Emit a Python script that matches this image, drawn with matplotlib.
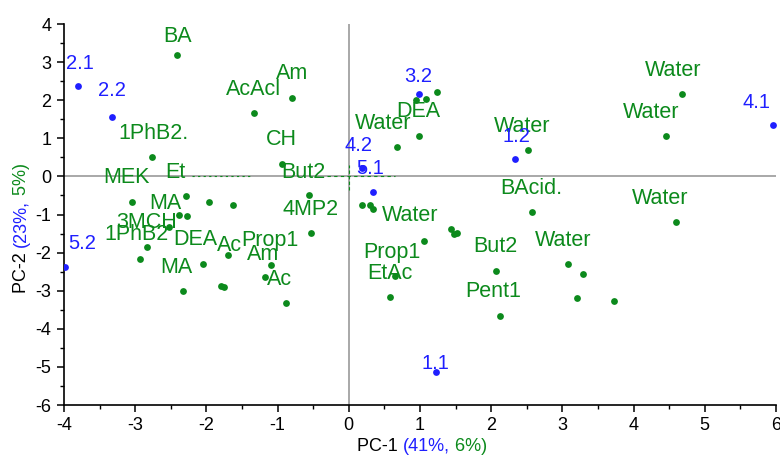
import matplotlib
matplotlib.use('Agg')

import matplotlib.pyplot as plt
from matplotlib.ticker import MultipleLocator

plt.rcParams['axes.unicode_minus'] = False

GREEN = '#0c8a1c'
BLUE = '#1f1fff'

# scores (blue) - sample ids
blue_ids = ['2.1', '2.2', '5.2', '3.2', '4.2', '5.1', '1.2', '1.1', '4.1']
blue_x = [-3.81, -3.33, -3.99, 0.99, 0.19, 0.34, 2.33, 1.22, 5.96]
blue_y = [2.36, 1.55, -2.38, 2.15, 0.23, -0.41, 0.45, -5.14, 1.34]
blue_lx = [-3.77, -3.33, -3.75, 0.97, 0.14, 0.30, 2.35, 1.21, 5.72]
blue_ly = [2.97, 2.26, -1.75, 2.62, 0.81, 0.21, 1.05, -4.90, 1.93]

# loadings (green) - points
green_x = [-2.41, -1.33, -0.80, -2.76, -0.94, -3.04, -2.29, -0.56, -1.97, -1.62,
           -2.38, -2.27, -2.53, -2.84, -2.93, -2.05, -2.33, -1.69, -1.79, -1.75,
           -0.53, -1.09, -1.17, -0.88,
           0.94, 1.09, 1.24, 0.98, 0.68, 2.52, 2.57, 0.19, 0.30, 0.34,
           1.43, 1.48, 1.52, 1.05, 0.65, 0.58, 2.07, 2.12, 3.08, 3.29,
           3.20, 4.68, 4.46, 4.59, 3.72]
green_y = [3.19, 1.66, 2.07, 0.52, 0.33, -0.67, -0.52, -0.48, -0.68, -0.74,
           -1.01, -1.05, -1.33, -1.84, -2.16, -2.31, -3.02, -2.06, -2.87, -2.91,
           -1.49, -2.32, -2.64, -3.32,
           2.01, 2.04, 2.22, 1.07, 0.76, 0.70, -0.94, -0.74, -0.74, -0.86,
           -1.39, -1.52, -1.49, -1.69, -2.62, -3.17, -2.47, -3.66, -2.31, -2.57,
           -3.20, 2.15, 1.07, -1.20, -3.28]

# loadings (green) - labels
green_names = ['BA', 'AcAcl', 'Am', '1PhB2.', 'CH', 'MEK', 'Et', 'But2', 'MA', '3MCH',
               '1PhB2', 'DEA', 'Ac', 'Prop1', '4MP2', 'Am', 'MA', 'Ac', 'DEA', 'Water',
               'Water', 'BAcid.', 'Water', 'Prop1', 'EtAc', 'But2', 'Pent1', 'Water',
               'Water', 'Water', 'Water']
green_lx = [-2.41, -1.34, -0.80, -2.75, -0.94, -3.12, -2.44, -0.64, -2.58, -2.84,
            -2.98, -2.15, -1.68, -1.11, -0.54, -1.21, -2.42, -0.98, 0.98, 0.48,
            2.44, 2.57, 0.86, 0.61, 0.58, 2.06, 2.03, 3.01,
            4.56, 4.25, 4.38]
green_ly = [3.66, 2.28, 2.70, 1.13, 0.96, -0.03, 0.09, 0.11, -0.72, -1.20,
            -1.52, -1.66, -1.81, -1.68, -0.87, -2.06, -2.38, -2.70, 1.71, 1.40,
            1.31, -0.32, -1.02, -2.01, -2.54, -1.84, -3.01, -1.68,
            2.78, 1.69, -0.59]

x_ticks = list(range(-4, 7))
y_ticks = list(range(-6, 5))

fig = plt.figure(figsize=(7.8, 4.57), dpi=100)
ax = fig.add_axes([64 / 780, 1 - 405 / 457, 712 / 780, 381 / 457])

ax.axhline(0, color='#9a9a9a', lw=1.2, zorder=1)
ax.axvline(0, color='#9a9a9a', lw=1.2, zorder=1)

# leader lines near origin
ax.plot([-2.2, -1.35], [0.02, 0.02], color=GREEN, lw=0.8, ls=(0, (2, 3)), zorder=2)
ax.plot([-0.3, 0.65], [0.02, 0.02], color=GREEN, lw=0.8, ls=(0, (3, 3)), zorder=2)
ax.plot([0, 0], [-0.35, 0.3], color=GREEN, lw=0.8, ls=(0, (3, 2)), zorder=2)

ax.scatter(green_x, green_y, s=24, color=GREEN, zorder=3, linewidths=0)
ax.scatter(blue_x, blue_y, s=24, color=BLUE, zorder=4, linewidths=0)

lbl_font = ['Liberation Sans', 'DejaVu Sans']
for name, x, y in zip(green_names, green_lx, green_ly):
    ax.text(x, y, name, color=GREEN, fontsize=15.5, ha='center', va='center',
            family=lbl_font, zorder=5)
for name, x, y in zip(blue_ids, blue_lx, blue_ly):
    ax.text(x, y, name, color=BLUE, fontsize=14.5, ha='center', va='center',
            family=lbl_font, zorder=5)

ax.set_xlim(-4, 6)
ax.set_ylim(-6, 4)
ax.set_xticks(x_ticks)
ax.set_yticks(y_ticks)
ax.xaxis.set_minor_locator(MultipleLocator(0.5))
ax.yaxis.set_minor_locator(MultipleLocator(0.5))
ax.tick_params(which='major', length=5, width=1.1, direction='out', labelsize=13, pad=4)
ax.tick_params(which='minor', length=3, width=1.0, direction='out')
for lab in ax.get_xticklabels() + ax.get_yticklabels():
    lab.set_family(lbl_font)

for side in ['top', 'right']:
    ax.spines[side].set_visible(False)
for side in ['left', 'bottom']:
    ax.spines[side].set_linewidth(1.2)

# x axis label in three colours
t1 = fig.text(357 / 780, 1 - 455 / 457, 'PC-1 ', fontsize=13, family=lbl_font,
              ha='left', va='bottom')
t2 = ax.annotate('(41%,', xy=(1, 0), xycoords=t1, fontsize=13, family=lbl_font,
                 color=BLUE, ha='left', va='bottom')
ax.annotate(' 6%)', xy=(1, 0), xycoords=t2, fontsize=13, family=lbl_font,
            color=GREEN, ha='left', va='bottom')

# y axis label in three colours
s1 = fig.text(13 / 780, 1 - 293 / 457, 'PC-2 ', fontsize=13, family=lbl_font,
              rotation=90, ha='left', va='bottom')
s2 = ax.annotate('(23%,', xy=(0, 1), xycoords=s1, fontsize=13, family=lbl_font,
                 color=BLUE, rotation=90, ha='left', va='bottom')
ax.annotate(' 5%)', xy=(0, 1), xycoords=s2, fontsize=13, family=lbl_font,
            color=GREEN, rotation=90, ha='left', va='bottom')

fig.savefig('out.png', dpi=100)
